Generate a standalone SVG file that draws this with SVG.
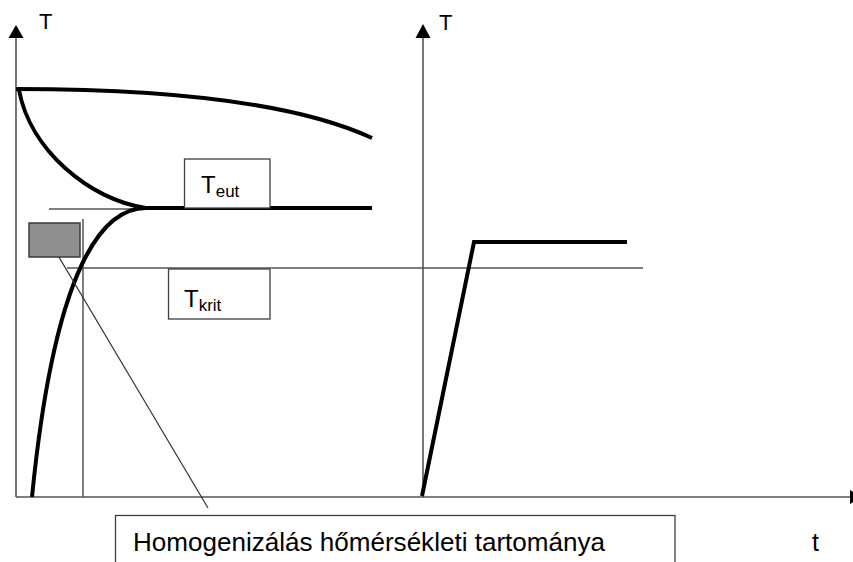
<svg xmlns="http://www.w3.org/2000/svg" width="853" height="562" viewBox="0 0 853 562">
<defs>
<style>
.axis{stroke:#555;stroke-width:1.6;fill:none}
.thin{stroke:#555;stroke-width:1.5;fill:none}
.thick{stroke:#000;stroke-width:4;fill:none;stroke-linecap:butt}
.box{fill:#fff;stroke:#404040;stroke-width:1.3}
.lbl{font-family:"Liberation Sans",Arial,sans-serif;fill:#000}
</style>
</defs>
<rect width="853" height="562" fill="#fff"/>
<g id="connectors">
<line class="axis" x1="16" y1="497" x2="16" y2="36"/>
<polygon points="16,25 8.5,38 23.5,38" fill="#000"/>
<line class="axis" x1="423" y1="497" x2="423" y2="36"/>
<polygon points="423,24 415.5,38 430.5,38" fill="#000"/>
<line class="axis" x1="16" y1="497" x2="852" y2="497"/>
<polygon points="862,497 850,490 850,504" fill="#000"/>
<line class="thin" x1="49" y1="209" x2="146" y2="209"/>
<line class="thin" x1="67" y1="268" x2="643" y2="268"/>
<line class="thin" x1="83" y1="219" x2="83" y2="497"/>
<path class="thick" d="M16,89 C150,89 290,100 372,138"/>
<path class="thick" d="M19,90 C30,150 90,200 146,208"/>
<path class="thick" d="M146,208 C103,208 55,265 32,497"/>
<line class="thick" x1="144" y1="208" x2="372" y2="208"/>
<path class="thick" d="M422,496 L474,242 L627,242" stroke-linejoin="miter"/>
<line stroke="#333" stroke-width="1.2" x1="50" y1="242" x2="208" y2="508"/>
</g>
<g id="range-rect">
<rect x="29" y="223" width="51" height="34" fill="#8f8f8f" stroke="#3a3a3a" stroke-width="1.5"/>
</g>
<g id="label-T-left"><text class="lbl" x="39" y="29" font-size="22">T</text></g>
<g id="label-T-right"><text class="lbl" x="439" y="30" font-size="22">T</text></g>
<g id="label-t"><text class="lbl" x="812" y="551" font-size="25">t</text></g>
<g id="node-teut">
<rect class="box" x="184.5" y="159" width="85.5" height="49"/>
<text class="lbl" x="201" y="193" font-size="24">T<tspan font-size="17" dy="4">eut</tspan></text>
</g>
<g id="node-tkrit">
<rect class="box" x="168.5" y="269" width="101.5" height="50"/>
<text class="lbl" x="184" y="307" font-size="24">T<tspan font-size="17" dy="4">krit</tspan></text>
</g>
<g id="node-homog">
<rect class="box" x="115.5" y="515.5" width="559.5" height="60"/>
<text class="lbl" x="133" y="551" font-size="25" textLength="472" lengthAdjust="spacingAndGlyphs">Homogenizálás hőmérsékleti tartománya</text>
</g>
</svg>
